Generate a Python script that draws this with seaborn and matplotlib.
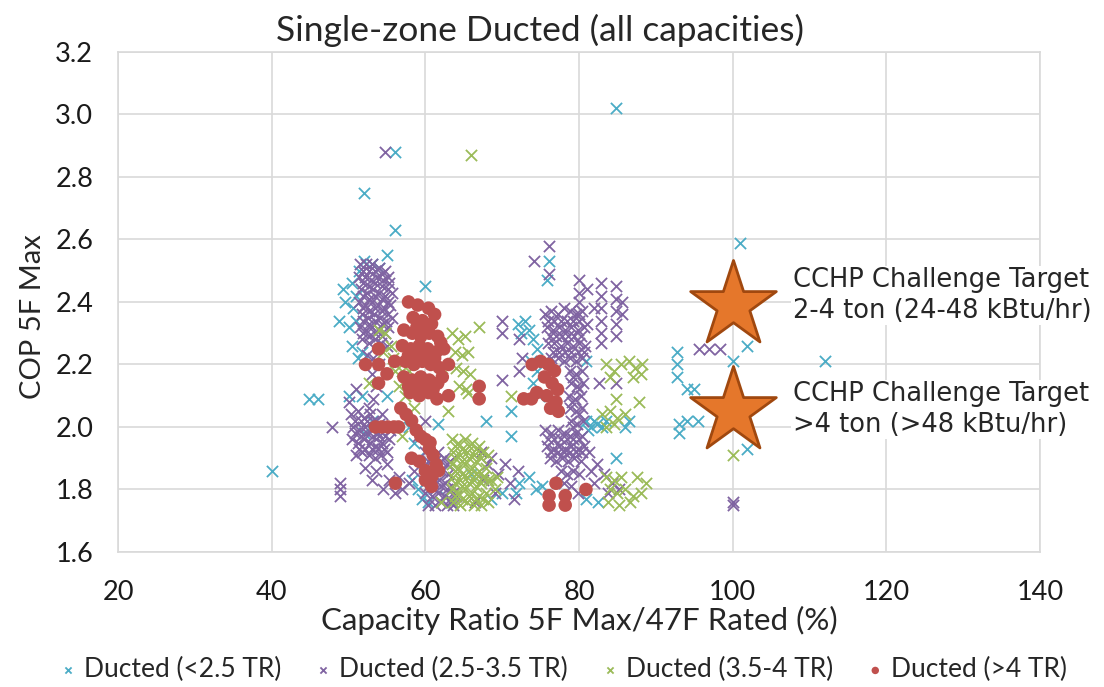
import matplotlib
matplotlib.use("Agg")
from matplotlib import pyplot as plt
import pandas as pd
import seaborn as sns

# series: (capacity ratio %, COP at 5F)
ducted_lt25 = [
    (40.0, 1.86), (44.8, 2.09), (46.0, 2.09), (84.8, 3.02), (101.0, 2.59), (112.0, 2.21),
    (52.0, 2.75), (56.1, 2.88), (56.1, 2.63), (55.0, 2.55), (60.0, 2.45), (48.7, 2.34),
    (49.3, 2.44), (50.0, 2.32), (49.5, 2.40), (50.5, 2.46), (51.3, 2.50), (52.0, 2.53),
    (53.0, 2.52), (53.9, 2.51), (51.0, 2.42), (50.6, 2.38), (51.0, 2.34), (50.4, 2.26),
    (51.2, 2.22), (51.7, 2.24), (50.0, 2.10), (51.7, 2.10), (55.0, 2.10), (52.0, 1.98),
    (53.0, 2.02), (57.8, 2.00), (58.5, 1.95), (59.0, 1.90), (58.2, 1.83), (59.0, 1.80),
    (59.6, 1.77), (60.4, 1.76), (61.7, 2.01), (62.5, 1.78), (63.5, 1.76), (66.0, 1.85),
    (67.9, 2.02), (68.5, 1.77), (70.0, 1.79), (71.1, 2.05), (71.1, 1.97), (71.8, 1.79),
    (72.2, 1.82), (73.5, 1.84), (74.4, 1.80), (75.2, 1.81), (72.0, 2.33), (72.5, 2.30),
    (73.0, 2.34), (73.5, 2.31), (74.0, 2.28), (74.5, 2.25), (73.8, 2.21), (74.5, 2.18),
    (74.0, 2.14), (74.8, 2.10), (76.1, 2.53), (75.8, 2.47), (80.9, 2.21), (80.9, 2.02),
    (81.6, 2.00), (82.3, 2.01), (83.0, 2.00), (81.2, 1.99), (82.0, 2.02), (83.5, 2.02),
    (84.8, 1.90), (80.9, 1.77), (82.5, 1.76), (92.8, 2.24), (92.8, 2.20), (92.8, 2.16),
    (94.0, 2.12), (95.0, 2.12), (93.0, 2.01), (93.0, 1.98), (94.0, 2.02), (95.5, 2.02),
    (100.0, 2.21), (101.9, 2.26), (101.8, 1.93), (86.0, 2.00), (86.5, 2.02),
]

ducted_2535 = [
    (51.5, 2.52), (52.3, 2.52), (53.1, 2.52), (53.9, 2.51), (54.7, 2.50),
    (51.3, 2.48), (52.1, 2.48), (52.9, 2.47), (53.7, 2.48), (54.5, 2.47), (55.3, 2.46),
    (51.6, 2.44), (52.4, 2.43), (53.2, 2.44), (54.0, 2.43), (54.8, 2.42), (55.6, 2.43),
    (51.4, 2.40), (52.2, 2.39), (53.0, 2.40), (53.8, 2.39), (54.6, 2.38), (55.4, 2.39),
    (51.7, 2.36), (52.5, 2.35), (53.3, 2.36), (54.1, 2.35), (54.9, 2.34), (55.7, 2.35),
    (51.5, 2.32), (52.3, 2.31), (53.1, 2.32), (53.9, 2.31), (54.7, 2.30),
    (51.8, 2.28), (52.6, 2.27), (53.4, 2.28), (54.2, 2.27), (55.0, 2.26),
    (51.9, 2.50), (52.7, 2.50), (53.5, 2.50), (54.3, 2.49), (55.1, 2.48),
    (51.9, 2.46), (52.7, 2.45), (53.5, 2.46), (54.3, 2.45), (55.1, 2.44),
    (51.9, 2.42), (52.7, 2.41), (53.5, 2.42), (54.3, 2.41), (55.1, 2.40),
    (51.9, 2.38), (52.7, 2.37), (53.5, 2.38), (54.3, 2.37), (55.1, 2.36),
    (51.9, 2.34), (52.7, 2.33), (53.5, 2.34), (54.3, 2.33), (55.1, 2.32),
    (51.9, 2.30), (52.7, 2.29), (53.5, 2.30), (54.3, 2.29),
    (52.4, 2.23), (53.2, 2.22), (54.0, 2.20), (53.0, 2.17), (53.6, 2.13), (53.2, 2.09), (52.6, 2.06),
    (54.8, 2.88), (74.1, 2.53), (76.1, 2.58), (76.1, 2.49),
    (50.3, 2.04), (51.2, 2.05), (52.0, 2.03), (52.8, 2.04), (53.6, 2.02), (54.4, 2.04),
    (50.6, 2.00), (51.4, 1.99), (52.2, 2.00), (53.0, 1.99), (53.8, 1.98), (54.6, 2.00), (55.4, 1.99),
    (50.4, 1.96), (51.2, 1.95), (52.0, 1.96), (52.8, 1.95), (53.6, 1.94), (54.4, 1.95), (55.2, 1.96),
    (51.0, 1.91), (51.8, 1.92), (52.6, 1.91), (53.4, 1.90), (54.2, 1.91), (55.0, 1.92),
    (50.8, 2.02), (51.6, 2.02), (52.4, 2.02), (53.2, 2.02), (54.0, 2.01),
    (50.8, 1.98), (51.6, 1.97), (52.4, 1.98), (53.2, 1.97), (54.0, 1.97), (54.8, 1.97),
    (51.4, 1.93), (52.2, 1.93), (53.0, 1.93), (53.8, 1.93), (54.6, 1.93),
    (52.2, 1.87), (53.6, 1.86), (55.0, 1.88), (53.0, 1.83), (54.5, 1.80), (56.0, 1.79), (57.0, 1.80),
    (47.8, 2.00), (48.9, 1.82), (48.9, 1.80), (48.9, 1.78), (50.0, 2.08), (51.0, 2.12),
    (55.2, 1.83), (56.5, 1.84),
    (60.0, 1.92), (60.8, 1.90), (61.6, 1.92), (62.4, 1.90), (63.2, 1.89),
    (59.8, 1.87), (60.6, 1.86), (61.4, 1.87), (62.2, 1.86), (63.0, 1.85), (63.8, 1.86),
    (60.2, 1.83), (61.0, 1.82), (61.8, 1.83), (62.6, 1.82), (63.4, 1.81),
    (60.0, 1.79), (60.8, 1.78), (61.6, 1.79), (62.4, 1.78), (63.2, 1.77), (64.0, 1.78),
    (60.4, 1.75), (61.2, 1.75), (62.0, 1.76), (62.8, 1.75), (63.6, 1.75),
    (60.4, 1.89), (61.2, 1.89), (62.0, 1.89), (62.8, 1.88),
    (60.4, 1.81), (61.2, 1.80), (62.0, 1.81), (62.8, 1.80), (63.6, 1.79),
    (58.5, 1.86), (57.8, 1.82), (59.0, 1.97), (60.0, 2.02),
    (68.6, 1.90), (69.5, 1.85), (70.3, 1.88), (71.0, 1.82), (72.0, 1.86), (69.0, 1.79),
    (71.5, 1.77), (66.5, 1.76), (67.5, 1.83),
    (70.0, 2.34), (70.0, 2.30), (70.0, 2.15), (72.2, 2.28), (72.6, 2.22), (72.2, 2.18),
    (67.2, 1.92), (68.0, 1.88),
    (75.6, 2.36), (76.4, 2.37), (77.2, 2.36), (78.0, 2.38), (78.8, 2.37), (79.6, 2.36), (80.4, 2.37),
    (75.8, 2.32), (76.6, 2.31), (77.4, 2.32), (78.2, 2.31), (79.0, 2.32), (79.8, 2.31), (80.6, 2.32),
    (76.0, 2.27), (76.8, 2.27), (77.6, 2.26), (78.4, 2.27), (79.2, 2.26), (80.0, 2.27), (80.8, 2.26),
    (76.4, 2.22), (77.2, 2.22), (78.0, 2.21), (78.8, 2.22), (79.6, 2.21), (80.4, 2.22),
    (76.0, 2.34), (76.8, 2.34), (77.6, 2.34), (78.4, 2.34), (79.2, 2.34), (80.0, 2.34),
    (76.2, 2.29), (77.0, 2.29), (77.8, 2.29), (78.6, 2.29), (79.4, 2.29), (80.2, 2.29),
    (76.6, 2.24), (77.4, 2.24), (78.2, 2.24), (79.0, 2.24), (79.8, 2.24), (80.6, 2.24),
    (78.8, 2.18), (79.6, 2.17), (80.4, 2.18),
    (78.9, 2.14), (79.7, 2.13), (80.5, 2.14),
    (78.7, 2.10), (79.5, 2.09), (80.3, 2.10),
    (78.8, 2.06), (79.6, 2.05), (80.4, 2.06),
    (78.9, 2.02), (79.7, 2.01), (80.5, 2.02),
    (79.2, 2.16), (80.0, 2.12), (79.1, 2.08), (80.0, 2.04), (79.2, 2.00),
    (75.6, 1.99), (76.4, 1.98), (77.2, 1.99), (78.0, 1.98), (78.8, 1.97), (79.6, 1.98), (80.4, 1.97),
    (75.8, 1.94), (76.6, 1.93), (77.4, 1.94), (78.2, 1.93), (79.0, 1.94), (79.8, 1.93), (80.6, 1.94),
    (76.0, 1.96), (76.8, 1.96), (77.6, 1.96), (78.4, 1.96), (79.2, 1.96), (80.0, 1.96),
    (76.4, 1.92), (77.2, 1.92), (78.0, 1.92), (78.8, 1.92), (79.6, 1.92), (80.4, 1.92),
    (76.2, 1.90), (77.0, 1.89), (77.8, 1.90), (78.6, 1.89), (79.4, 1.90), (80.2, 1.89),
    (77.6, 1.86), (78.4, 1.85), (79.2, 1.86), (80.0, 1.85), (78.0, 1.82), (79.0, 1.81), (79.8, 1.79),
    (80.0, 2.47), (80.0, 2.43), (80.0, 2.40), (80.0, 2.36), (81.0, 2.44), (81.0, 2.33),
    (82.8, 2.46), (82.8, 2.42), (82.8, 2.38), (82.8, 2.34), (82.8, 2.30), (82.8, 2.27), (82.0, 2.38),
    (84.8, 2.45), (84.8, 2.41), (84.8, 2.37), (84.8, 2.33), (84.8, 2.29), (85.6, 2.40), (85.6, 2.36),
    (82.6, 2.14), (84.8, 2.14),
    (95.6, 2.25), (96.9, 2.25), (98.3, 2.25), (100.0, 1.76), (100.0, 1.75),
    (81.3, 1.92), (82.3, 1.88), (83.3, 1.85), (84.3, 1.82), (85.2, 1.80), (82.0, 1.82),
    (83.8, 1.79), (81.5, 1.86),
]

ducted_354 = [
    (63.4, 1.96), (64.3, 1.95), (65.2, 1.96), (66.1, 1.95), (67.0, 1.94),
    (63.6, 1.92), (64.5, 1.91), (65.4, 1.92), (66.3, 1.91), (67.2, 1.90), (68.1, 1.91),
    (63.4, 1.88), (64.3, 1.87), (65.2, 1.88), (66.1, 1.87), (67.0, 1.86), (67.9, 1.87),
    (63.6, 1.84), (64.5, 1.83), (65.4, 1.84), (66.3, 1.83), (67.2, 1.82), (68.1, 1.83),
    (63.4, 1.80), (64.3, 1.79), (65.2, 1.80), (66.1, 1.79), (67.0, 1.78), (67.9, 1.79),
    (63.6, 1.76), (64.5, 1.75), (65.4, 1.76), (66.3, 1.75), (67.2, 1.75), (68.1, 1.76),
    (63.9, 1.94), (64.8, 1.93), (65.7, 1.94), (66.6, 1.93), (67.5, 1.92),
    (63.9, 1.90), (64.8, 1.89), (65.7, 1.90), (66.6, 1.89),
    (63.9, 1.86), (64.8, 1.85), (65.7, 1.86), (66.6, 1.85), (67.5, 1.84),
    (63.9, 1.82), (64.8, 1.81), (65.7, 1.82), (66.6, 1.81),
    (63.9, 1.78), (64.8, 1.77), (65.7, 1.78), (66.6, 1.77), (67.5, 1.77),
    (69.0, 1.80), (69.3, 1.84), (62.0, 1.76),
    (63.4, 2.30), (64.3, 2.28), (65.2, 2.29), (63.8, 2.24), (64.7, 2.23), (65.6, 2.24),
    (64.0, 2.19), (64.9, 2.18), (65.8, 2.17), (64.4, 2.13), (65.3, 2.12), (65.6, 2.11), (67.0, 2.32),
    (53.9, 2.31), (54.8, 2.30), (55.5, 2.26), (54.5, 2.24), (55.8, 2.22), (56.0, 2.18),
    (57.0, 2.18), (57.8, 2.18), (56.5, 2.13), (57.4, 2.10), (52.6, 2.14), (62.1, 2.19),
    (63.0, 2.05), (56.9, 1.97), (58.5, 2.06),
    (66.0, 2.87), (71.1, 2.10), (67.5, 1.84), (68.6, 1.83),
    (83.5, 2.20), (84.5, 2.18), (85.5, 2.20), (84.0, 2.16), (86.5, 2.21), (87.3, 2.19),
    (88.2, 2.20), (87.0, 2.16), (88.0, 2.17), (84.8, 2.09), (87.8, 2.08),
    (83.0, 2.04), (84.0, 2.05), (85.0, 2.03), (86.0, 2.04), (83.5, 2.00), (84.6, 2.01),
    (83.5, 1.84), (84.5, 1.83), (85.5, 1.84), (84.0, 1.80), (85.0, 1.79), (86.0, 1.80),
    (87.0, 1.78), (88.0, 1.79), (83.8, 1.76), (85.2, 1.75), (86.6, 1.76), (88.7, 1.82),
    (87.5, 1.84), (100.0, 1.91),
]

ducted_gt4 = [
    (57.8, 2.40), (59.0, 2.39), (60.4, 2.38), (61.2, 2.36), (58.4, 2.35), (59.6, 2.34), (60.8, 2.33),
    (57.2, 2.31), (58.3, 2.30), (59.4, 2.29), (60.5, 2.30), (61.6, 2.29),
    (57.0, 2.26), (58.1, 2.25), (59.2, 2.26), (60.3, 2.25), (61.4, 2.24), (62.4, 2.25),
    (57.4, 2.21), (58.5, 2.20), (59.6, 2.21), (60.7, 2.20), (61.8, 2.19), (63.0, 2.20),
    (57.2, 2.16), (58.3, 2.15), (59.4, 2.16), (60.5, 2.15), (61.6, 2.14),
    (58.0, 2.11), (59.2, 2.10), (60.4, 2.11), (61.5, 2.09), (63.0, 2.10),
    (58.9, 2.32), (60.0, 2.32), (57.8, 2.23), (59.0, 2.23), (60.1, 2.23), (61.2, 2.22),
    (57.8, 2.13), (59.0, 2.13), (60.0, 2.13), (61.0, 2.12), (62.2, 2.16), (62.0, 2.27),
    (52.2, 2.20), (53.9, 2.25), (53.9, 2.20), (53.9, 2.14), (55.0, 2.17), (56.0, 2.21),
    (53.5, 2.00), (54.3, 2.00), (55.1, 2.00), (55.9, 2.00), (56.5, 2.00),
    (56.8, 2.06), (57.5, 2.04), (58.2, 2.02), (58.8, 1.99), (59.4, 1.97), (60.0, 1.96),
    (60.5, 1.93), (61.0, 1.91), (61.4, 1.88), (61.7, 1.86), (60.6, 1.95),
    (58.2, 1.90), (59.2, 1.89), (60.8, 1.84), (60.8, 1.81),
    (56.1, 1.82), (60.0, 1.86), (60.0, 1.83),
    (67.0, 2.13), (67.0, 2.09),
    (73.9, 2.20), (75.0, 2.21), (76.0, 2.20), (76.8, 2.18), (75.5, 2.16), (76.5, 2.14),
    (77.2, 2.12), (74.5, 2.11), (75.8, 2.10), (77.0, 2.08), (72.8, 2.09), (73.8, 2.09),
    (76.3, 2.06), (77.3, 2.05),
    (76.1, 1.78), (76.1, 1.75), (77.0, 1.82), (78.2, 1.78), (78.2, 1.75), (80.9, 1.80),
]

series_names = ["Ducted (<2.5 TR)", "Ducted (2.5-3.5 TR)", "Ducted (3.5-4 TR)", "Ducted (>4 TR)"]
series_data = [ducted_lt25, ducted_2535, ducted_354, ducted_gt4]
series_colors = ["#4BACC6", "#8064A2", "#9BBB59", "#C0504D"]

target_x = [100, 100]
target_y = [2.39, 2.05]
target_labels = ["CCHP Challenge Target\n2-4 ton (24-48 kBtu/hr)",
                 "CCHP Challenge Target\n>4 ton (>48 kBtu/hr)"]

sns.set_style("whitegrid")
plt.rcParams['font.family'] = ['Lato', 'DejaVu Sans']

fig = plt.figure(figsize=(11.04, 6.87), dpi=100)
ax = fig.add_axes([0.107, 0.1965, 0.835, 0.728])

for name, pts, col in zip(series_names, series_data, series_colors):
    df = pd.DataFrame(pts, columns=["ratio", "cop"])
    if name == "Ducted (>4 TR)":
        sns.scatterplot(data=df, x="ratio", y="cop", ax=ax, color=col, marker="o",
                        s=95, edgecolor="none", label=name, zorder=3)
    else:
        sns.scatterplot(data=df, x="ratio", y="cop", ax=ax, color=col, marker="x",
                        s=65, linewidth=1.3, label=name, zorder=3)

# challenge targets
sns.scatterplot(x=target_x, y=target_y, ax=ax, marker="*", s=4200, color="#E5772B",
                edgecolor="#A0480F", linewidth=2, zorder=4, legend=False)
for ty, txt in zip([2.42, 2.056], target_labels):
    ax.text(107.8, ty, txt, fontsize=18.5, family=['DejaVu Sans'],
            va="center", ha="left", linespacing=1.25, zorder=5,
            bbox=dict(facecolor="white", edgecolor="none", pad=1))

ax.set_xlim(20, 140)
ax.set_ylim(1.6, 3.2)
ax.set_xticks([20, 40, 60, 80, 100, 120, 140])
ax.set_yticks([1.6, 1.8, 2.0, 2.2, 2.4, 2.6, 2.8, 3.0, 3.2])
ax.yaxis.set_major_formatter(plt.FormatStrFormatter('%.1f'))
ax.grid(True, color="#D9D9D9", linewidth=1.2)
for sp in ax.spines.values():
    sp.set_color("#D9D9D9")
    sp.set_linewidth(1.2)
ax.tick_params(axis="both", labelsize=19.5, length=0, colors="#1a1a1a")
ax.tick_params(axis="x", pad=20)
ax.tick_params(axis="y", pad=18)

ax.set_xlabel("Capacity Ratio 5F Max/47F Rated (%)", fontsize=22.5, labelpad=1)
ax.set_ylabel("COP 5F Max", fontsize=21)
ax.yaxis.set_label_coords(-0.078, 0.47)
fig.text(0.489, 0.955, "Single-zone Ducted (all capacities)", ha="center", va="center",
         fontsize=25.5)

ax.get_legend().remove()
handles, labels = ax.get_legend_handles_labels()
fig.legend(handles[:4], labels[:4], loc="center", bbox_to_anchor=(0.508, 0.025), ncol=4,
           frameon=False, fontsize=19, markerscale=0.55, handletextpad=0.1,
           columnspacing=1.1, handlelength=1.0)

fig.savefig("out.png", dpi=100)
